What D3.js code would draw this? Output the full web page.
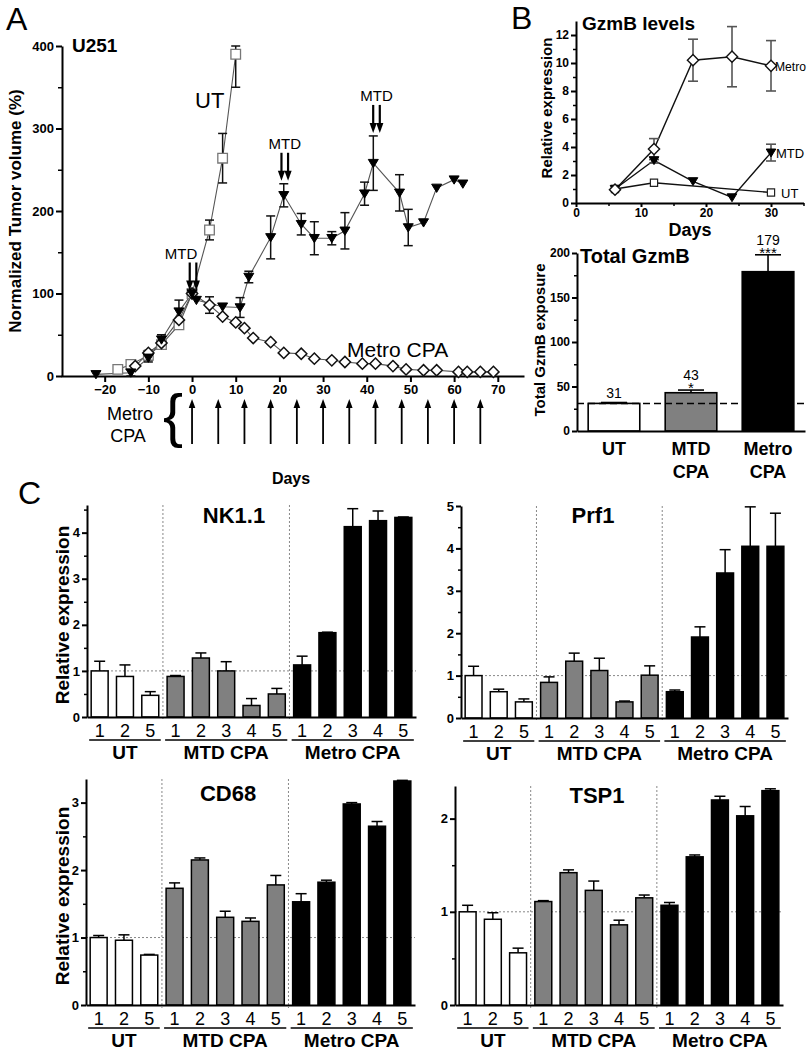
<!DOCTYPE html>
<html><head><meta charset="utf-8">
<script src="https://cdn.jsdelivr.net/npm/d3@7"></script>
<style>
body{margin:0;background:#fff}
svg{display:block}
text{font-family:"Liberation Sans",Arial,Helvetica,sans-serif;fill:#000}
</style>
</head><body>
<svg id="fig" width="809" height="1050"></svg>
<script>
// ---------- Panel A : U251 tumor volume ----------
const utDays      = [-17,-14,-10,-7,-3,0,4,7,10];
const utVolume    = [8,14,25,38,62,100,177,264,390];
const utSem       = [0,0,6,5,0,0,12,30,40];
const mtdDays     = [-22,-14,-10,-7,-3,0,1,7,11,13,18,21,25,28,32,35,39.5,41.5,47.5,49.5,53,56,60,62];
const mtdVolume   = [2,4,22,44,78,100,92,84,83,120,168,219,184,167,167,176,221,258,222,180,186,228,238,233];
const mtdSem      = [0,4,5,6,14,0,0,0,12,7,26,14,13,20,8,22,14,33,22,22,0,0,0,0];
const metroDays   = [-13,-10,-7,-3,0,4,7,10,12,14,18,21,25,28,32,35,39,42,46,49,53,56,61,63,66,69];
const metroVolume = [12,28,40,68,100,86,72,65,58,46,41,28,27,21,19,17,15,15,12,8,7,7,5,5,5,5];
const metroSem    = [0,0,0,0,0,10,0,0,0,0,0,0,0,0,0,0,0,0,0,0,0,0,0,0,0,0];
const mtdDoseDays   = [0,21,42];
const metroDoseDays = [0,6,12,18,24,30,36,42,48,54,60,66];
const xTicksA = [-20,-10,0,10,20,30,40,50,60,70];
const yTicksA = [0,100,200,300,400];
const yMinorA = [50,150,250,350];

// ---------- Panel B : GzmB levels ----------
const gzmbDays     = [6,12,18,24,30];
const gzmbMetro    = [0.95,3.85,10.2,10.45,9.8];
const gzmbMetroSem = [0,0.75,1.5,2.15,1.8];
const gzmbMtd      = [1.0,3.05,1.55,0.4,3.6];
const gzmbMtdSem   = [0,0.2,0,0,0.6];
const gzmbUtDays   = [6,12,30];
const gzmbUt       = [1.0,1.45,0.75];
const xTicksB = [0,10,20,30];
const xMinorB = [5,15,25,35];
const yTicksB = [0,2,4,6,8,10,12];
const yMinorB = [1,3,5,7,9,11];

// ---------- Panel B : Total GzmB ----------
const totalGroups = ["UT","MTD CPA","Metro CPA"];
const totalValues = [31,43,179];
const totalSem    = [1,3,19];
const totalSig    = ["","*","***"];
const yTicksTot = [0,50,100,150,200];
const yMinorTot = [25,75,125,175];

// ---------- Panel C ----------
const cGroups = ["UT","MTD CPA","Metro CPA"];
const cSubLabels = [["1","2","5"],["1","2","3","4","5"],["1","2","3","4","5"]];
const nk11Mean = [1.0,0.88,0.47, 0.88,1.28,1.0,0.25,0.5, 1.13,1.83,4.13,4.26,4.33];
const nk11Err  = [0.21,0.25,0.08, 0.02,0.11,0.2,0.15,0.12, 0.19,0.01,0.39,0.21,0.01];
const prf1Mean = [1.0,0.62,0.38, 0.84,1.34,1.12,0.38,1.01, 0.62,1.91,3.42,4.05,4.05];
const prf1Err  = [0.22,0.06,0.07, 0.13,0.19,0.29,0.02,0.22, 0.04,0.24,0.55,0.93,0.78];
const cd68Mean = [1.0,0.96,0.74, 1.73,2.15,1.3,1.24,1.78, 1.53,1.82,2.98,2.65,3.32];
const cd68Err  = [0.03,0.08,0.01, 0.08,0.03,0.09,0.05,0.14, 0.12,0.03,0.02,0.07,0.01];
const tsp1Mean = [1.0,0.92,0.56, 1.11,1.42,1.23,0.86,1.15, 1.07,1.59,2.2,2.03,2.3];
const tsp1Err  = [0.07,0.07,0.05, 0.01,0.03,0.1,0.05,0.03, 0.03,0.02,0.04,0.1,0.02];

const svg = d3.select("#fig");
const FONT = '"Liberation Sans",Arial,Helvetica,sans-serif';
const fmt = d3.format("~g");

function zip(xs, ys, es){ return xs.map((x,i)=>({x, y:ys[i], e: es ? es[i] : 0})); }

function styleAxis(g, fs, sw){
  g.select(".domain").attr("stroke","#000").attr("stroke-width",sw||2);
  g.selectAll(".tick line").attr("stroke","#000").attr("stroke-width",sw||2);
  g.selectAll(".tick text").attr("font-family",FONT).attr("font-weight","bold").attr("font-size",fs).attr("fill","#000");
}
function yAxis(sc, x, major, minor, fs, len, minLen){
  const gm = svg.append("g").attr("transform",`translate(${x},0)`)
    .call(d3.axisLeft(sc).tickValues(minor).tickSize(minLen).tickSizeOuter(0).tickFormat(""));
  gm.select(".domain").remove();
  gm.selectAll(".tick line").attr("stroke","#000").attr("stroke-width",1.5);
  const g = svg.append("g").attr("transform",`translate(${x},0)`)
    .call(d3.axisLeft(sc).tickValues(major).tickSize(len).tickSizeOuter(0).tickPadding(2).tickFormat(fmt));
  styleAxis(g, fs);
  return g;
}
function xAxis(sc, y, major, minor, fs, len, minLen, pad){
  if(minor){
    const gm = svg.append("g").attr("transform",`translate(0,${y})`)
      .call(d3.axisBottom(sc).tickValues(minor).tickSize(minLen).tickSizeOuter(0).tickFormat(""));
    gm.select(".domain").remove();
    gm.selectAll(".tick line").attr("stroke","#000").attr("stroke-width",1.5);
  }
  const g = svg.append("g").attr("transform",`translate(0,${y})`)
    .call(d3.axisBottom(sc).tickValues(major).tickSize(len).tickSizeOuter(0).tickPadding(pad==null?3:pad).tickFormat(fmt));
  styleAxis(g, fs);
  return g;
}
function txt(x,y,s,opt){
  opt = opt||{};
  const t = svg.append("text").attr("x",x).attr("y",y).text(s)
    .attr("font-family",opt.family||FONT)
    .attr("font-size",opt.size||14)
    .attr("font-weight",opt.weight||"normal")
    .attr("text-anchor",opt.anchor||"start");
  if(opt.rotate) t.attr("transform",`rotate(-90,${x},${y})`);
  return t;
}
const squarePath  = r => `M${-r},${-r}H${r}V${r}H${-r}Z`;
const diamondPath = r => `M0,${-r}L${r},0L0,${r}L${-r},0Z`;
const triDownPath = r => `M${-r},${-r*0.75}L${r},${-r*0.75}L0,${r*0.9}Z`;

// ================= PANEL A =================
const xA = d3.scaleLinear().domain([-30,76]).range([61,524]);
const yA = d3.scaleLinear().domain([0,400]).range([376,46]);

txt(6,30,"A",{size:32});
txt(72,52,"U251",{size:19,weight:"bold"});
txt(21,211,"Normalized Tumor volume (%)",{size:17,weight:"bold",anchor:"middle",rotate:true});

yAxis(yA, 62, yTicksA, yMinorA, 13, 6, 4);
xAxis(xA, 376, xTicksA, null, 13, 6, 0);

const seriesA = [
  {d: zip(utDays, utVolume, utSem), shape: squarePath(4.8), fill:"#fff", stroke:"#777", sw:1.3},
  {d: zip(metroDays, metroVolume, metroSem), shape: diamondPath(5.6), fill:"#fff", stroke:"#111", sw:1.5},
  {d: zip(mtdDays, mtdVolume, mtdSem), shape: triDownPath(5), fill:"#000", stroke:"#000", sw:1}
];
const lineA = d3.line().x(p=>xA(p.x)).y(p=>yA(p.y));
seriesA.forEach(s=>{
  svg.append("path").attr("d",lineA(s.d)).attr("fill","none").attr("stroke","#555").attr("stroke-width",1.1);
});
seriesA.forEach(s=>{
  s.d.filter(p=>p.e>0).forEach(p=>{
    const cx = xA(p.x), top = yA(Math.min(400,p.y+p.e)), bot = yA(p.y-p.e);
    svg.append("line").attr("x1",cx).attr("x2",cx).attr("y1",top).attr("y2",bot).attr("stroke","#111").attr("stroke-width",1.5);
    [top,bot].forEach(yy=>svg.append("line").attr("x1",cx-4.5).attr("x2",cx+4.5).attr("y1",yy).attr("y2",yy).attr("stroke","#111").attr("stroke-width",1.5));
  });
});
seriesA.forEach(s=>{
  svg.append("g").selectAll("path").data(s.d).join("path")
    .attr("d",s.shape).attr("transform",p=>`translate(${xA(p.x)},${yA(p.y)})`)
    .attr("fill",s.fill).attr("stroke",s.stroke).attr("stroke-width",s.sw);
});

txt(195,108,"UT",{size:22});
txt(347,357,"Metro CPA",{size:21});

function arrowDown(x, yTop, yTip){
  svg.append("line").attr("x1",x).attr("x2",x).attr("y1",yTop).attr("y2",yTip-8).attr("stroke","#000").attr("stroke-width",2.2);
  svg.append("path").attr("d",`M${x-3.6},${yTip-10}L${x+3.6},${yTip-10}L${x},${yTip}Z`).attr("fill","#000");
}
function arrowUp(x, yTip, yBot){
  svg.append("line").attr("x1",x).attr("x2",x).attr("y1",yTip+7).attr("y2",yBot).attr("stroke","#000").attr("stroke-width",1.8);
  svg.append("path").attr("d",`M${x-3.3},${yTip+9}L${x+3.3},${yTip+9}L${x},${yTip}Z`).attr("fill","#000");
}
mtdDoseDays.forEach(d=>{
  const i = mtdDays.findIndex(v=>Math.abs(v-d)<1);
  const tipY = yA(mtdVolume[i]+mtdSem[i]) - 3;
  const cx = xA(d)+1;
  arrowDown(cx-3.3, tipY-28, tipY);
  arrowDown(cx+3.3, tipY-28, tipY);
  txt(d===0 ? cx-12 : cx, tipY-32, "MTD", {size:15, anchor:"middle"});
});
metroDoseDays.forEach(d=>arrowUp(xA(d), 399, 444));
txt(130,420,"Metro",{size:18,anchor:"middle"});
txt(128,442,"CPA",{size:18,anchor:"middle"});
txt(173,436,"{",{size:60,anchor:"middle"});
txt(291,484,"Days",{size:16,weight:"bold",anchor:"middle"});

// ================= PANEL B (top) =================
const xB = d3.scaleLinear().domain([0,35]).range([576,803.5]);
const yB = d3.scaleLinear().domain([0,13]).range([203,21]);
txt(511,29,"B",{size:32});
txt(582,30,"GzmB levels",{size:19,weight:"bold"});
txt(552,108,"Relative expression",{size:15,weight:"bold",anchor:"middle",rotate:true});
yAxis(yB, 576, yTicksB, yMinorB, 12, 5, 3);
xAxis(xB, 203, xTicksB, xMinorB, 12, 4, 3, 1);
const seriesB = [
  {d: zip(gzmbUtDays, gzmbUt, null), shape: squarePath(3.6), fill:"#fff", stroke:"#222", sw:1.2},
  {d: zip(gzmbDays, gzmbMtd, gzmbMtdSem), shape: triDownPath(4.8), fill:"#000", stroke:"#000", sw:1},
  {d: zip(gzmbDays, gzmbMetro, gzmbMetroSem), shape: diamondPath(5.6), fill:"#fff", stroke:"#111", sw:1.4}
];
const lineB = d3.line().x(p=>xB(p.x)).y(p=>yB(p.y));
seriesB.forEach(s=>svg.append("path").attr("d",lineB(s.d)).attr("fill","none").attr("stroke","#111").attr("stroke-width",1.4));
seriesB.forEach(s=>{
  s.d.filter(p=>p.e>0).forEach(p=>{
    const cx = xB(p.x), top = yB(p.y+p.e), bot = yB(p.y-p.e);
    svg.append("line").attr("x1",cx).attr("x2",cx).attr("y1",top).attr("y2",bot).attr("stroke","#555").attr("stroke-width",1.6);
    [top,bot].forEach(yy=>svg.append("line").attr("x1",cx-5).attr("x2",cx+5).attr("y1",yy).attr("y2",yy).attr("stroke","#555").attr("stroke-width",1.6));
  });
});
seriesB.forEach(s=>{
  svg.append("g").selectAll("path").data(s.d).join("path")
    .attr("d",s.shape).attr("transform",p=>`translate(${xB(p.x)},${yB(p.y)})`)
    .attr("fill",s.fill).attr("stroke",s.stroke).attr("stroke-width",s.sw);
});
const lastDay = gzmbDays[gzmbDays.length-1];
txt(xB(lastDay)+4, yB(gzmbMetro[4])+5, "Metro", {size:13}).attr("textLength",31).attr("lengthAdjust","spacingAndGlyphs");
txt(xB(lastDay)+5, yB(gzmbMtd[4])+5, "MTD", {size:13});
txt(xB(lastDay)+10, yB(gzmbUt[2])+5, "UT", {size:13});
txt(690,236,"Days",{size:18,weight:"bold",anchor:"middle"});

// ================= PANEL B (bottom) =================
const xT = d3.scaleBand().domain(totalGroups).range([577,805]).paddingInner(0.33).paddingOuter(0.145);
const yT = d3.scaleLinear().domain([0,200]).range([431,253]);
txt(545,340,"Total GzmB exposure",{size:15,weight:"bold",anchor:"middle",rotate:true});
const totalFills = ["#ffffff","#808080","#000000"];
totalGroups.forEach((g,i)=>{
  const x = xT(g), w = xT.bandwidth(), cx = x+w/2;
  const top = yT(totalValues[i]+totalSem[i]);
  svg.append("line").attr("x1",cx).attr("x2",cx).attr("y1",top).attr("y2",yT(totalValues[i])).attr("stroke","#000").attr("stroke-width",1.6);
  svg.append("line").attr("x1",cx-13).attr("x2",cx+13).attr("y1",top).attr("y2",top).attr("stroke","#000").attr("stroke-width",1.6);
  svg.append("rect").attr("x",x).attr("y",yT(totalValues[i])).attr("width",w).attr("height",yT(0)-yT(totalValues[i]))
    .attr("fill",totalFills[i]).attr("stroke","#000").attr("stroke-width",1.6);
  if(totalSig[i]){
    txt(cx, top+3, totalSig[i], {size:15, anchor:"middle"});
    txt(cx, top-10, String(totalValues[i]), {size:14, anchor:"middle"});
  } else {
    txt(cx, top-5, String(totalValues[i]), {size:14, anchor:"middle"});
  }
});
svg.append("line").attr("x1",577).attr("x2",805).attr("y1",yT(totalValues[0])).attr("y2",yT(totalValues[0]))
  .attr("stroke","#000").attr("stroke-width",1.5).attr("stroke-dasharray","7,4");
yAxis(yT, 577, yTicksTot, yMinorTot, 12, 5, 3);
const gxT = svg.append("g").attr("transform","translate(0,431)").call(d3.axisBottom(xT).tickSize(0).tickFormat(""));
styleAxis(gxT, 12);
const bc = g => xT(g)+xT.bandwidth()/2;
txt(bc("UT"), 455, "UT", {size:18, weight:"bold", anchor:"middle"});
txt(bc("MTD CPA"), 455, "MTD", {size:18, weight:"bold", anchor:"middle"});
txt(bc("MTD CPA"), 478, "CPA", {size:18, weight:"bold", anchor:"middle"});
txt(bc("Metro CPA"), 455, "Metro", {size:18, weight:"bold", anchor:"middle"});
txt(bc("Metro CPA"), 478, "CPA", {size:18, weight:"bold", anchor:"middle"});
txt(580, 263, "Total GzmB", {size:20, weight:"bold"});

// ================= PANEL C =================
txt(18,504,"C",{size:32});
const groupIndex = cSubLabels.flatMap((s,gi)=>s.map(()=>gi));
const barKeys = d3.range(groupIndex.length);
const barFills = ["#ffffff","#808080","#000000"];

function barPanel(cfg){
  const xs = d3.scaleBand().domain(barKeys).range([cfg.x0,cfg.x1]).paddingInner(0.33).paddingOuter(0.165);
  const ys = d3.scaleLinear().domain([0,cfg.ymax]).range([cfg.y0,cfg.yTop]);
  const bw = xs.bandwidth();
  svg.append("line").attr("x1",cfg.x0).attr("x2",cfg.x1).attr("y1",ys(1)).attr("y2",ys(1))
    .attr("stroke","#888").attr("stroke-width",1).attr("stroke-dasharray","2,2");
  let start = 0;
  cSubLabels.forEach((s,gi)=>{
    const end = start + s.length - 1;
    if(gi>0){
      const dx = (xs(start-1)+bw + xs(start))/2;
      svg.append("line").attr("x1",dx).attr("x2",dx).attr("y1",cfg.yTop).attr("y2",cfg.y0+3)
        .attr("stroke","#888").attr("stroke-width",1).attr("stroke-dasharray","2,2");
    }
    const ux0 = xs(start)-2, ux1 = xs(end)+bw+2;
    svg.append("line").attr("x1",ux0).attr("x2",ux1).attr("y1",cfg.y0+23).attr("y2",cfg.y0+23).attr("stroke","#000").attr("stroke-width",1.5);
    txt((ux0+ux1)/2, cfg.y0+42, cGroups[gi], {size:19, weight:"bold", anchor:"middle"});
    s.forEach((lab,k)=>txt(xs(start+k)+bw/2, cfg.y0+20, lab, {size:18, anchor:"middle"}));
    start = end+1;
  });
  barKeys.forEach(i=>{
    const cx = xs(i)+bw/2, top = ys(cfg.mean[i]+cfg.err[i]);
    svg.append("line").attr("x1",cx).attr("x2",cx).attr("y1",top).attr("y2",ys(cfg.mean[i])).attr("stroke","#000").attr("stroke-width",1.5);
    svg.append("line").attr("x1",cx-5.5).attr("x2",cx+5.5).attr("y1",top).attr("y2",top).attr("stroke","#000").attr("stroke-width",1.5);
  });
  svg.append("g").selectAll("rect").data(barKeys).join("rect")
    .attr("x",i=>xs(i)).attr("width",bw)
    .attr("y",i=>ys(cfg.mean[i])).attr("height",i=>cfg.y0-ys(cfg.mean[i]))
    .attr("fill",i=>barFills[groupIndex[i]]).attr("stroke","#000").attr("stroke-width",1.5);
  yAxis(ys, cfg.x0, cfg.major, cfg.minor, 13, 5, 3);
  const gx = svg.append("g").attr("transform",`translate(0,${cfg.y0})`).call(d3.axisBottom(xs).tickSize(0).tickFormat(""));
  styleAxis(gx, 12);
  txt(cfg.titleX, cfg.titleY, cfg.title, {size:22, weight:"bold", anchor:"middle"});
  if(cfg.ylabel) txt(cfg.ylabelX, (cfg.y0+cfg.yTop)/2 + 4, "Relative expression", {size:19, weight:"bold", anchor:"middle", rotate:true});
}

barPanel({x0:87,x1:416,y0:717,yTop:505,ymax:4.6,major:[0,1,2,3,4],minor:[0.5,1.5,2.5,3.5,4.5],
  mean:nk11Mean,err:nk11Err,title:"NK1.1",titleX:234,titleY:523,ylabel:true,ylabelX:69});
barPanel({x0:461,x1:788,y0:718,yTop:506,ymax:5,major:[0,1,2,3,4,5],minor:[0.5,1.5,2.5,3.5,4.5],
  mean:prf1Mean,err:prf1Err,title:"Prf1",titleX:593,titleY:523});
barPanel({x0:86,x1:415,y0:1005,yTop:779,ymax:3.35,major:[0,1,2,3],minor:[0.5,1.5,2.5],
  mean:cd68Mean,err:cd68Err,title:"CD68",titleX:228,titleY:801,ylabel:true,ylabelX:69});
barPanel({x0:455,x1:783,y0:1005,yTop:786,ymax:2.35,major:[0,1,2],minor:[0.5,1.5],
  mean:tsp1Mean,err:tsp1Err,title:"TSP1",titleX:597,titleY:803});
</script>
</body></html>
